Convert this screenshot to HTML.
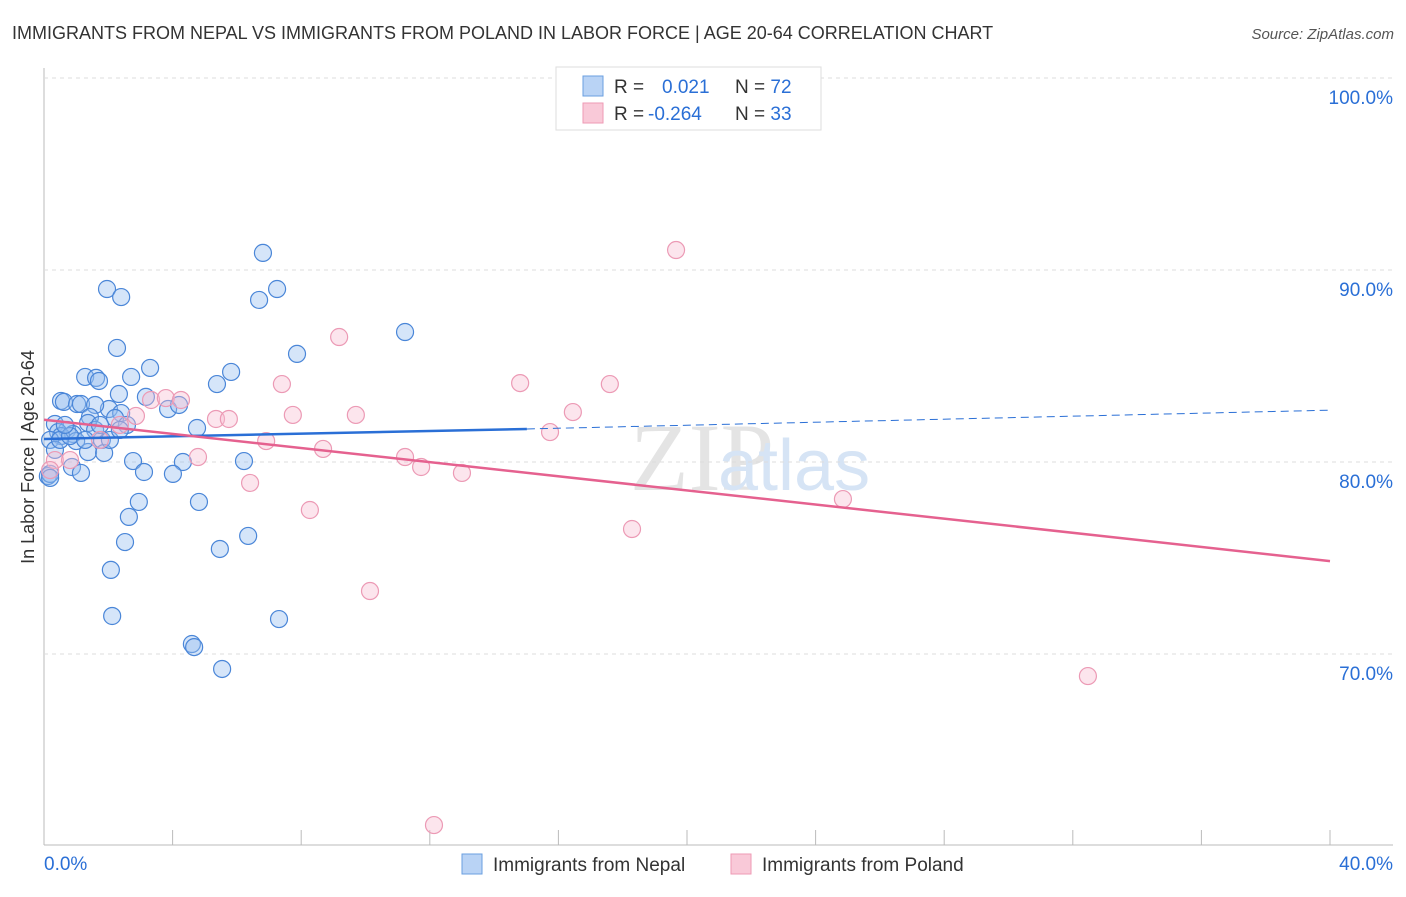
<!DOCTYPE html>
<html><head><meta charset="utf-8"><style>
body{margin:0;background:#fff;font-family:"Liberation Sans",sans-serif}
</style></head><body>
<svg id="c" width="1406" height="892" xmlns="http://www.w3.org/2000/svg">
<text x="12" y="39" font-size="18" fill="#333">IMMIGRANTS FROM NEPAL VS IMMIGRANTS FROM POLAND IN LABOR FORCE | AGE 20-64 CORRELATION CHART</text>
<text x="1394" y="39" font-size="15" fill="#555" font-style="italic" text-anchor="end">Source: ZipAtlas.com</text>
<text x="630" y="490" font-size="96" fill="#e4e4e4" font-family="Liberation Serif">ZIP</text>
<text x="718" y="490" font-size="72" fill="#d6e4f5">atlas</text>
<text transform="translate(34,457) rotate(-90)" font-size="18" fill="#333" text-anchor="middle">In Labor Force | Age 20-64</text>
<g id="grid"></g><g id="marks"></g>
<g>
<rect x="556" y="67" width="265" height="63" fill="#fff" stroke="#ddd"/>
<rect x="583" y="76" width="20" height="20" fill="#b9d3f5" stroke="#6a9fe0"/>
<rect x="583" y="103" width="20" height="20" fill="#f9c9d8" stroke="#ee9ab4"/>
<text x="614" y="93" font-size="19" fill="#333">R = <tspan fill="#2a6fd6" x="662">0.021</tspan><tspan x="735" fill="#333">N = </tspan><tspan fill="#2a6fd6">72</tspan></text>
<text x="614" y="120" font-size="19" fill="#333">R = <tspan fill="#2a6fd6" x="648">-0.264</tspan><tspan x="735" fill="#333">N = </tspan><tspan fill="#2a6fd6">33</tspan></text>
</g>
<g>
<rect x="462" y="854" width="20" height="20" fill="#b9d3f5" stroke="#6a9fe0"/>
<text x="493" y="871" font-size="19" fill="#333">Immigrants from Nepal</text>
<rect x="731" y="854" width="20" height="20" fill="#f9c9d8" stroke="#ee9ab4"/>
<text x="762" y="871" font-size="19" fill="#333">Immigrants from Poland</text>
</g>
</svg>
<script>
const yTicks=[70,80,90,100];
const xTickLabels=["0.0%","40.0%"];
const nepalPx=[[263,253],[107,289],[121,297],[259,300],[277,289],[405,332],[117,348],[297,354],[150,368],[231,372],[85,377],[96,378],[99,381],[131,377],[217,384],[119,394],[146,397],[61,401],[64,402],[77,404],[81,404],[109,409],[95,405],[168,409],[179,405],[121,413],[90,417],[55,424],[88,423],[115,418],[197,428],[127,425],[67,430],[58,432],[73,434],[61,436],[102,440],[76,441],[50,440],[88,452],[104,453],[133,461],[183,462],[244,461],[72,467],[144,472],[173,474],[81,473],[48,476],[50,474],[139,502],[199,502],[129,517],[125,542],[220,549],[248,536],[111,570],[112,616],[279,619],[192,644],[194,647],[222,669],[55,450],[60,440],[70,436],[95,430],[100,425],[50,478],[110,440],[65,425],[85,440],[120,430]];
const polandPx=[[676,250],[339,337],[282,384],[520,383],[610,384],[573,412],[293,415],[356,415],[216,419],[229,419],[151,400],[166,398],[181,400],[136,416],[550,432],[266,441],[323,449],[405,457],[198,457],[421,467],[462,473],[250,483],[310,510],[843,499],[632,529],[370,591],[1088,676],[434,825],[55,460],[50,470],[70,460],[100,440],[120,425]];
// convert read pixel estimates into data values (x in %, y in %)
const nepalX=nepalPx.map(p=>+((p[0]-44)/1286*40).toFixed(2));
const nepalY=nepalPx.map(p=>+(100-(p[1]-78)/19.2).toFixed(2));
const polandX=polandPx.map(p=>+((p[0]-44)/1286*40).toFixed(2));
const polandY=polandPx.map(p=>+(100-(p[1]-78)/19.2).toFixed(2));
const nepalTrend=[81.2,81.72,82.7];const nepalTrendX=[0,15.02,40];
const polandTrend=[82.2,74.84];
const X=v=>44+v/40*1286, Y=v=>78+(100-v)*19.2;
const NS="http://www.w3.org/2000/svg";
function mk(t,a,p){const e=document.createElementNS(NS,t);for(const k in a)e.setAttribute(k,a[k]);p.appendChild(e);return e;}
const g=document.getElementById('grid'),m=document.getElementById('marks');
mk('line',{x1:44,y1:68,x2:44,y2:845,stroke:'#bbb'},g);
mk('line',{x1:44,y1:845,x2:1393,y2:845,stroke:'#bbb'},g);
for(let i=1;i<=10;i++){const x=44+i*128.6;const l=mk('line',{x1:x,y1:830,x2:x,y2:845,stroke:'#bbb'},g);}
for(const t of yTicks){
 const l=mk('line',{x1:44,y1:Y(t),x2:1393,y2:Y(t),stroke:'#ddd','stroke-dasharray':'4,4'},g);
 
 
 const tx=mk('text',{x:1393,y:Y(t)+26,'font-size':19,fill:'#2a6fd6','text-anchor':'end'},g);tx.textContent=t.toFixed(1)+'%';
 
 
}
const x0=mk('text',{x:44,y:870,'font-size':19,fill:'#2a6fd6'},g);x0.textContent=xTickLabels[0];


const x1=mk('text',{x:1393,y:870,'font-size':19,fill:'#2a6fd6','text-anchor':'end'},g);x1.textContent=xTickLabels[1];


nepalX.forEach((x,i)=>{const c=mk('circle',{cx:X(x),cy:Y(nepalY[i]),r:8.5,fill:'rgba(150,190,240,0.4)',stroke:'#4a86d8','stroke-width':1.2},m);
 
 });
polandX.forEach((x,i)=>{const c=mk('circle',{cx:X(x),cy:Y(polandY[i]),r:8.5,fill:'rgba(248,190,210,0.4)',stroke:'#ec9ab5','stroke-width':1.2},m);
 
 });
const bl=mk('line',{x1:X(nepalTrendX[0]),y1:Y(nepalTrend[0]),x2:X(nepalTrendX[1]),y2:Y(nepalTrend[1]),stroke:'#2a6fd6','stroke-width':2.5},m);


const bd=mk('line',{x1:X(nepalTrendX[1]),y1:Y(nepalTrend[1]),x2:X(nepalTrendX[2]),y2:Y(nepalTrend[2]),stroke:'#2a6fd6','stroke-width':1,'stroke-dasharray':'8,5'},m);


const pl=mk('line',{x1:X(0),y1:Y(polandTrend[0]),x2:X(40),y2:Y(polandTrend[1]),stroke:'#e5618f','stroke-width':2.5},m);


</script>
</body></html>
